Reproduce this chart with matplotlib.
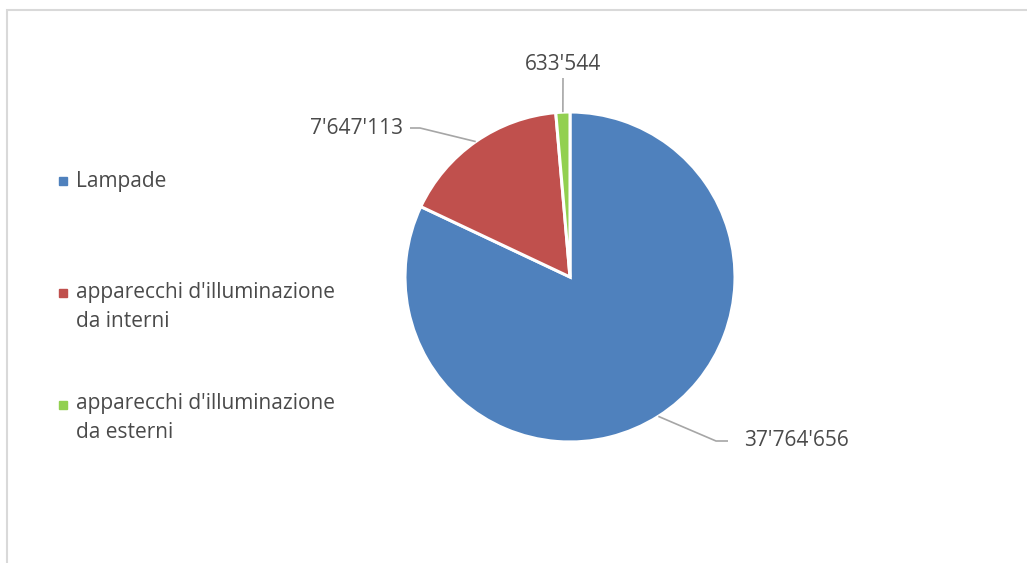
import matplotlib.pyplot as plt
import numpy as np
from matplotlib.patches import Rectangle

# Data
categories = ["Lampade",
              "apparecchi d'illuminazione\nda interni",
              "apparecchi d'illuminazione\nda esterni"]
values = [37764656, 7647113, 633544]
value_labels = ["37'764'656", "7'647'113", "633'544"]
colors = ["#4F81BD", "#C0504D", "#92D050"]

W, H = 1027, 563
plt.rcParams["font.family"] = ["Open Sans", "DejaVu Sans"]
TEXT = "#4A4A4A"
LEADER = "#A6A6A6"
FS = 15

fig = plt.figure(figsize=(W / 100, H / 100), dpi=100)
ax = fig.add_axes([0, 0, 1, 1])

# pie drawn in pixel-like coordinates (y measured from the bottom)
cx, cy, r = 570, 286, 165
wedges, _ = ax.pie(values, colors=colors, startangle=90, counterclock=False,
                   center=(cx, cy), radius=r,
                   wedgeprops=dict(edgecolor="white", linewidth=2.2))
ax.set_xlim(0, W)
ax.set_ylim(0, H)
ax.set_aspect("equal")
ax.axis("off")

# leader lines: wedge edge -> elbow -> label
elbows = [[(716, 122), (728, 122)],
          [(420, 435), (410, 435)],
          [(563, 485)]]
label_pos = [(744, 123, "left", "center"),
             (403, 435, "right", "center"),
             (563, 498, "center", "center")]
for w, pts, (tx, ty, ha, va), lab in zip(wedges, elbows, label_pos, value_labels):
    ang = np.deg2rad((w.theta1 + w.theta2) / 2)
    start = (cx + r * np.cos(ang), cy + r * np.sin(ang))
    xs = [start[0]] + [p[0] for p in pts]
    ys = [start[1]] + [p[1] for p in pts]
    ax.plot(xs, ys, color=LEADER, lw=1.2, solid_capstyle="butt")
    ax.text(tx, ty, lab, ha=ha, va=va, fontsize=FS, color=TEXT)

# legend on the left
legend_y = [382, 256, 144.5]
for col, name, y in zip(colors, categories, legend_y):
    first_line = y + (14 if "\n" in name else 0)
    ax.plot(63, first_line, marker="s", markersize=5.4, color=col, linestyle="none")
    ax.text(76, y, name, ha="left", va="center", fontsize=FS, color=TEXT,
            linespacing=1.5)

# chart area border (open at the right and bottom edges)
fig.patches.append(Rectangle((6.5 / W, -0.05), 2, (H - 9.5) / H + 0.05,
                             transform=fig.transFigure, fill=False,
                             edgecolor="#D9D9D9", linewidth=1.5))

fig.savefig("out.png", dpi=100, facecolor="white")
